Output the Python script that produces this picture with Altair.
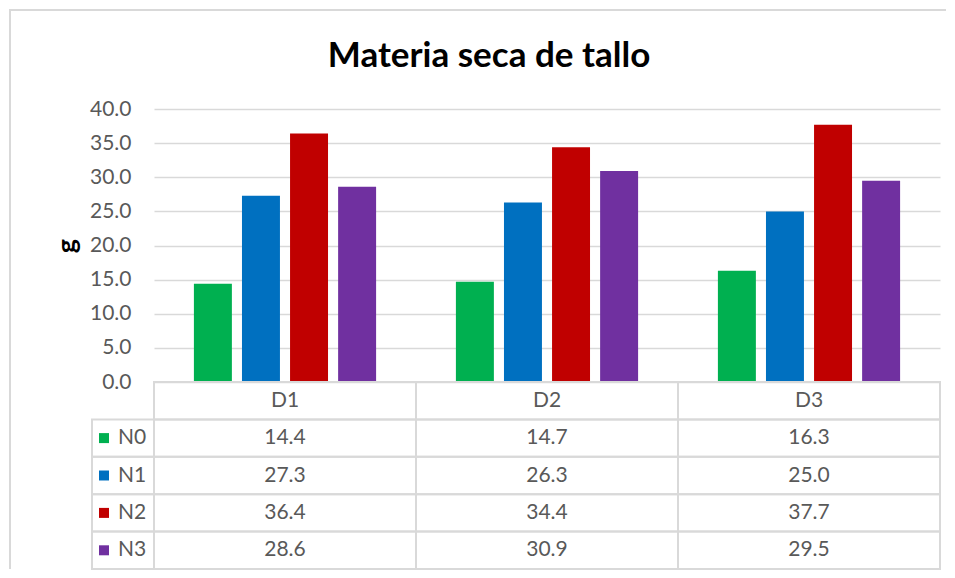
import altair as alt
import pandas as pd

# ---------------- data ----------------
categories = ["D1", "D2", "D3"]
series = ["N0", "N1", "N2", "N3"]
colors = ["#00B050", "#0070C0", "#C00000", "#7030A0"]
n0_values = [14.4, 14.7, 16.3]
n1_values = [27.3, 26.3, 25.0]
n2_values = [36.4, 34.4, 37.7]
n3_values = [28.6, 30.9, 29.5]
y_ticks = [0, 5, 10, 15, 20, 25, 30, 35, 40]
title_text = "Materia seca de tallo"
y_title = "g"

rows = []
for s, vals in zip(series, [n0_values, n1_values, n2_values, n3_values]):
    for c, v in zip(categories, vals):
        rows.append({"serie": s, "dosis": c, "valor": v, "fila": s})
df = pd.DataFrame(rows)
hdr_df = pd.DataFrame({"dosis": categories, "fila": ["hdr"] * len(categories)})
cells_df = pd.concat([hdr_df, df[["dosis", "fila"]]], ignore_index=True)
leg_df = pd.DataFrame({"serie": series, "fila": series})
title_df = pd.DataFrame({"t": [title_text]})

# ---------------- style ----------------
W, H = 786, 273
ROW_H = 37.4
FONT = "Lato"
GRAY = "#595959"
LINE = "#d9d9d9"
TXT = 21

color_scale = alt.Scale(domain=series, range=colors)
x_scale = alt.Scale(domain=categories, paddingInner=0, paddingOuter=0)
off_scale = alt.Scale(domain=series, paddingInner=0.21, paddingOuter=0.83)

# ---------------- bar chart ----------------
bars = alt.Chart(df).mark_bar().encode(
    x=alt.X("dosis:N", scale=x_scale, axis=None),
    xOffset=alt.XOffset("serie:N", scale=off_scale),
    y=alt.Y(
        "valor:Q",
        scale=alt.Scale(domain=[0, 40], nice=False),
        axis=alt.Axis(
            values=y_ticks, format=".1f", title=y_title,
            grid=True, gridColor=LINE, gridWidth=1.5,
            domain=False, ticks=False, tickSize=0,
            labelFont=FONT, labelFontSize=TXT, labelColor=GRAY, labelPadding=23,
            titleFont=FONT, titleFontSize=27, titleFontWeight="bold",
            titleColor="black", titlePadding=8,
        ),
    ),
    color=alt.Color("serie:N", scale=color_scale, legend=None),
)

title_mark = alt.Chart(title_df).mark_text(
    font=FONT, fontSize=35, fontWeight="bold", color="black", baseline="middle"
).encode(x=alt.value(335), y=alt.value(-53), text="t:N")

border_top = alt.Chart(title_df).mark_rule(color=LINE, strokeWidth=2).encode(
    x=alt.value(-145), x2=alt.value(792), y=alt.value(-99), y2=alt.value(-99)
)
border_left = alt.Chart(title_df).mark_rule(color=LINE, strokeWidth=2).encode(
    x=alt.value(-144), x2=alt.value(-144), y=alt.value(-100), y2=alt.value(H + ROW_H * 5)
)

top = alt.layer(border_top, border_left, bars, title_mark).properties(width=W, height=H)

# ---------------- data table ----------------
fila_scale = alt.Scale(domain=["hdr"] + series, paddingInner=0, paddingOuter=0)
xt = alt.X("dosis:N", scale=x_scale, axis=None)
yt = alt.Y("fila:N", scale=fila_scale, axis=None)

cells = alt.Chart(cells_df).mark_rect(stroke=LINE, strokeWidth=2, fillOpacity=0).encode(x=xt, y=yt)
leg_cells = alt.Chart(leg_df).mark_rect(stroke=LINE, strokeWidth=2, fillOpacity=0).encode(
    x=alt.value(-62), x2=alt.value(0), y=yt
)
leg_sq = alt.Chart(leg_df).mark_square(size=100, opacity=1).encode(
    x=alt.value(-50), y=yt,
    color=alt.Color("serie:N", scale=color_scale, legend=None),
)
leg_txt = alt.Chart(leg_df).mark_text(
    font=FONT, fontSize=TXT, color=GRAY, align="left", baseline="middle"
).encode(x=alt.value(-36), y=yt, text="serie:N")
hdr_txt = alt.Chart(hdr_df).mark_text(
    font=FONT, fontSize=TXT, color=GRAY, baseline="middle"
).encode(x=xt, y=yt, text="dosis:N")
val_txt = alt.Chart(df).mark_text(
    font=FONT, fontSize=TXT, color=GRAY, baseline="middle"
).encode(x=xt, y=yt, text=alt.Text("valor:Q", format=".1f"))

table = alt.layer(cells, leg_cells, leg_sq, leg_txt, hdr_txt, val_txt).properties(
    width=W, height=ROW_H * 5
)

chart = alt.vconcat(top, table, spacing=0, bounds="flush").properties(
    padding={"left": 0, "top": 0, "right": 0, "bottom": 0}
).configure_view(strokeWidth=0)

chart.save("out.html", embed_options={"renderer": "svg", "actions": False})
